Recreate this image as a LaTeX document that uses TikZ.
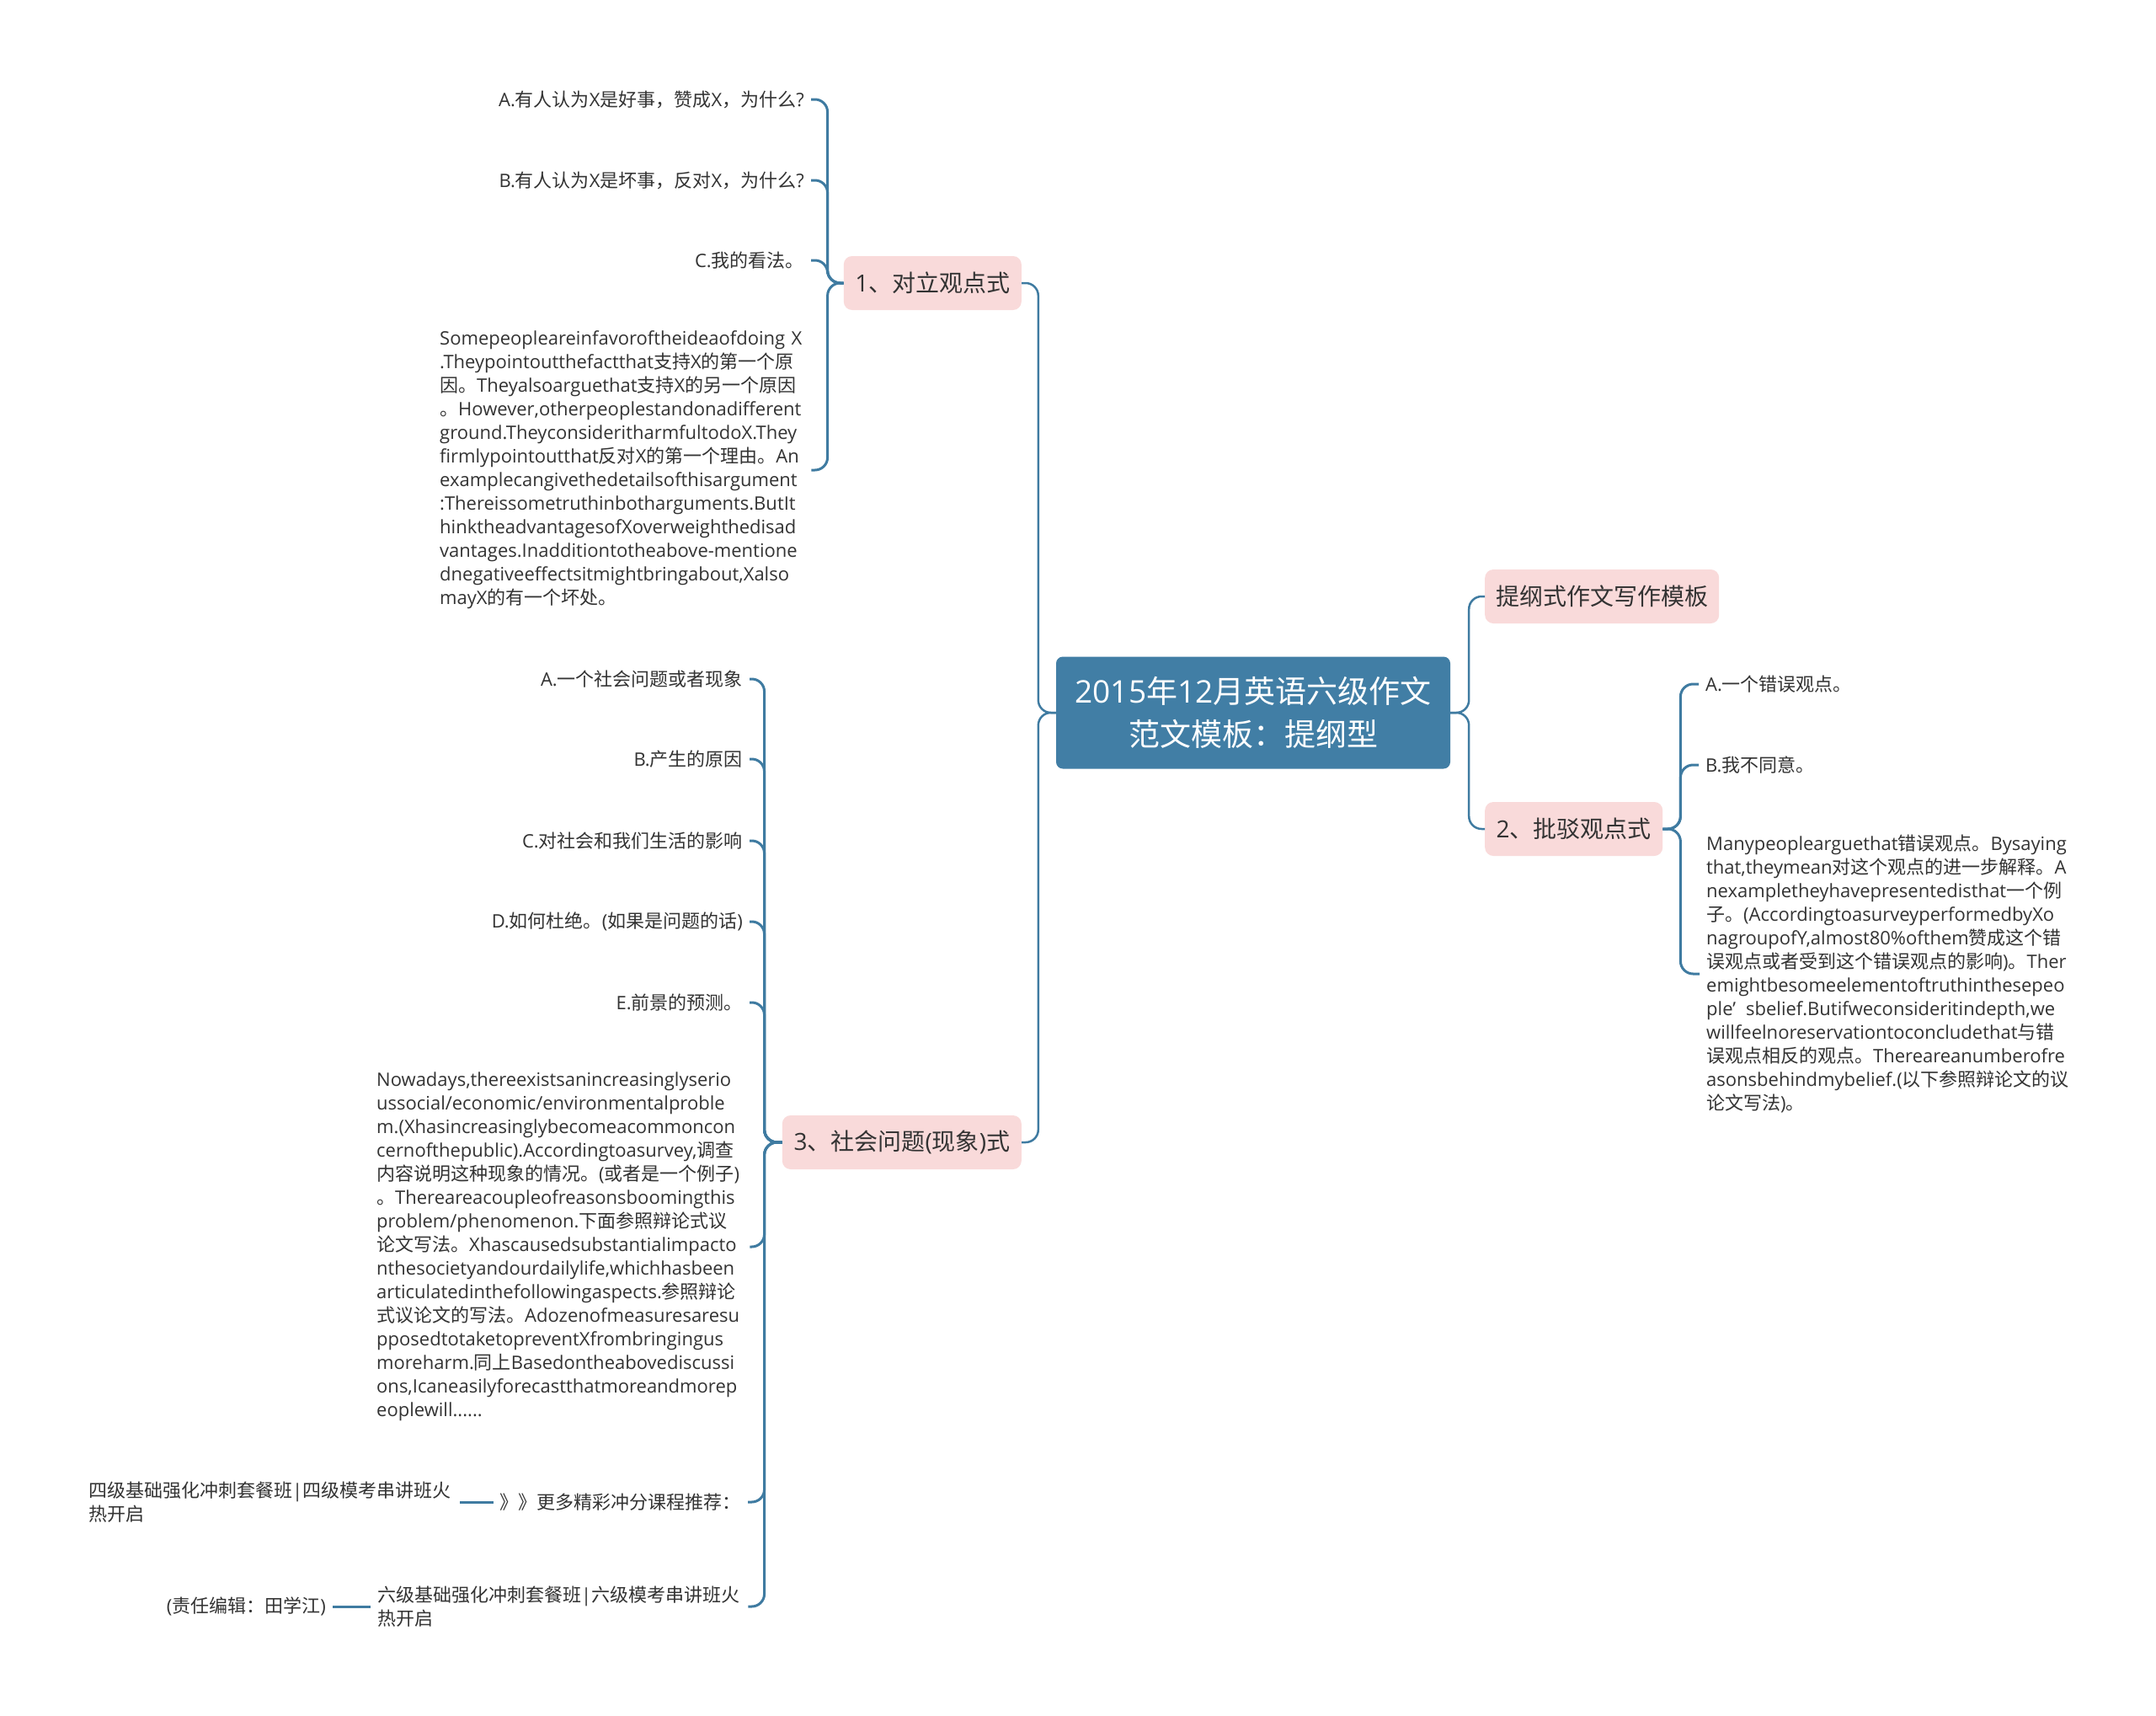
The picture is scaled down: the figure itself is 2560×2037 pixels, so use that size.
\documentclass[tikz,border=0pt]{standalone}
\usepackage{fontspec}
\setmainfont{Open Sans}
\newfontfamily\cjkfont{Noto Sans CJK SC}
\XeTeXinterchartokenstate=1
\newXeTeXintercharclass\cjkcls
\newcount\cjkc
\def\cjkrange#1#2{\cjkc=#1\relax
  \loop\XeTeXcharclass\cjkc=\cjkcls\relax\ifnum\cjkc<#2\relax\advance\cjkc by 1\repeat}
\cjkrange{"3000}{"303F}
\cjkrange{"4E00}{"9FFF}
\cjkrange{"FF00}{"FFEF}
\def\cjkbound#1{\ifnum#1=\cjkcls\relax\else
  \XeTeXinterchartoks #1 \cjkcls={\begingroup\cjkfont}%
  \XeTeXinterchartoks \cjkcls #1={\endgroup}\fi}
\cjkbound{0}\cjkbound{1}\cjkbound{2}\cjkbound{3}\cjkbound{4095}
\definecolor{rootblue}{HTML}{417EA5}
\definecolor{pinkfill}{HTML}{F9DADA}
\definecolor{linkc}{HTML}{3F7BA1}
\definecolor{txt}{HTML}{333333}

\begin{document}
\begin{tikzpicture}[x=1pt,y=-1pt,
  every node/.style={text=txt},
  root/.style={fill=rootblue,text=white,rounded corners=8pt,minimum width=468pt,minimum height=133pt,align=center,font=\fontsize{37}{51}\selectfont},
  topic/.style={fill=pinkfill,rounded corners=10pt,minimum height=64pt,inner xsep=0pt,font=\fontsize{28}{34}\selectfont},
  leaf/.style={inner sep=8pt,font=\fontsize{22}{28}\selectfont},
  para/.style={leaf,align=left,execute at begin node={\hyphenpenalty=10000\exhyphenpenalty=10000}},
  link/.style={draw=linkc,line width=3pt,rounded corners=15pt}]
\useasboundingbox[fill=white] (0,0) rectangle (2560,2037);

\node[root] (root) at (1488,846) {2015年12月英语六级作文\\范文模板：提纲型};

\node[topic, minimum width=211pt, anchor=east] (n1) at (1213,336) {1、对立观点式};
\node[topic, minimum width=284pt, anchor=east] (n3) at (1213,1356) {3、社会问题(现象)式};
\node[topic, minimum width=278pt, anchor=west] (nt) at (1763,708) {提纲式作文写作模板};
\node[topic, minimum width=211pt, anchor=west] (n2) at (1763,984) {2、批驳观点式};

\node[leaf, anchor=east] (a1) at (963,118) {A.有人认为X是好事，赞成X，为什么?};
\node[leaf, anchor=east] (a2) at (963,214) {B.有人认为X是坏事，反对X，为什么?};
\node[leaf, anchor=east] (a3) at (963,309) {C.我的看法。};
\node[para, anchor=west, text width=433pt] (a4) at (514,558) {Somepeopleareinfavoroftheideaofdoing X\\
.Theypointoutthefactthat支持X的第一个原\\
因。Theyalsoarguethat支持X的另一个原因\\
。However,otherpeoplestandonadifferent\\
ground.TheyconsideritharmfultodoX.They\\
firmlypointoutthat反对X的第一个理由。An\\
examplecangivethedetailsofthisargument\\
:Thereissometruthinbotharguments.ButIt\\
hinktheadvantagesofXoverweighthedisad\\
vantages.Inadditiontotheabove-mentione\\
dnegativeeffectsitmightbringabout,Xalso\\
mayX的有一个坏处。};

\node[leaf, anchor=east] (b1) at (890,806) {A.一个社会问题或者现象};
\node[leaf, anchor=east] (b2) at (890,901) {B.产生的原因};
\node[leaf, anchor=east] (b3) at (890,998) {C.对社会和我们生活的影响};
\node[leaf, anchor=east] (b4) at (890,1094) {D.如何杜绝。(如果是问题的话)};
\node[leaf, anchor=east] (b5) at (890,1190) {E.前景的预测。};
\node[para, anchor=west, text width=435pt] (b6) at (439,1480) {Nowadays,thereexistsanincreasinglyserio\\
ussocial/economic/environmentalproble\\
m.(Xhasincreasinglybecomeacommoncon\\
cernofthepublic).Accordingtoasurvey,调查\\
内容说明这种现象的情况。(或者是一个例子)\\
。Thereareacoupleofreasonsboomingthis\\
problem/phenomenon.下面参照辩论式议\\
论文写法。Xhascausedsubstantialimpacto\\
nthesocietyandourdailylife,whichhasbeen\\
articulatedinthefollowingaspects.参照辩论\\
式议论文的写法。Adozenofmeasuresaresu\\
pposedtotaketopreventXfrombringingus\\
moreharm.同上Basedontheabovediscussi\\
ons,Icaneasilyforecastthatmoreandmorep\\
eoplewill......};
\node[leaf, anchor=east] (b7) at (888,1783) {》》更多精彩冲分课程推荐：};
\node[para, anchor=west, text width=433pt] (b7a) at (97,1783) {四级基础强化冲刺套餐班|四级模考串讲班火\\热开启};
\node[para, anchor=west, text width=432pt] (b8) at (440,1907) {六级基础强化冲刺套餐班|六级模考串讲班火\\热开启};
\node[leaf, anchor=east] (b8a) at (395,1907) {(责任编辑：田学江)};

\node[leaf, anchor=west] (d1) at (2017,812) {A.一个错误观点。};
\node[leaf, anchor=west] (d2) at (2017,908) {B.我不同意。};
\node[para, anchor=west, text width=430pt] (d3) at (2018,1156) {Manypeoplearguethat错误观点。Bysaying\\
that,theymean对这个观点的进一步解释。A\\
nexampletheyhavepresentedisthat一个例\\
子。(AccordingtoasurveyperformedbyXo\\
nagroupofY,almost80\%ofthem赞成这个错\\
误观点或者受到这个错误观点的影响)。Ther\\
emightbesomeelementoftruthinthesepeo\\
ple’\hspace{12pt}sbelief.Butifweconsideritindepth,we\\
willfeelnoreservationtoconcludethat与错\\
误观点相反的观点。Thereareanumberofre\\
asonsbehindmybelief.(以下参照辩论文的议\\
论文写法)。};

\draw[link, line width=2.5pt] (root.west) -- ++(-21,0) |- (n1.east);
\draw[link, line width=2.5pt] (root.west) -- ++(-21,0) |- (n3.east);
\draw[link, line width=2.5pt] (root.east) -- ++(22,0) |- (nt.west);
\draw[link, line width=2.5pt] (root.east) -- ++(22,0) |- (n2.west);

\foreach \c in {a1,a2,a3,a4}
  \draw[link] (n1.west) -- ++(-19,0) |- (\c.east);
\foreach \c in {b1,b2,b3,b4,b5,b6,b7,b8}
  \draw[link] (n3.west) -- ++(-21,0) |- (\c.east);
\foreach \c in {d1,d2,d3}
  \draw[link] (n2.east) -- ++(21,0) |- (\c.west);
\draw[link] (b7.west) -- (b7a.east);
\draw[link] (b8.west) -- (b8a.east);
\end{tikzpicture}
\end{document}
